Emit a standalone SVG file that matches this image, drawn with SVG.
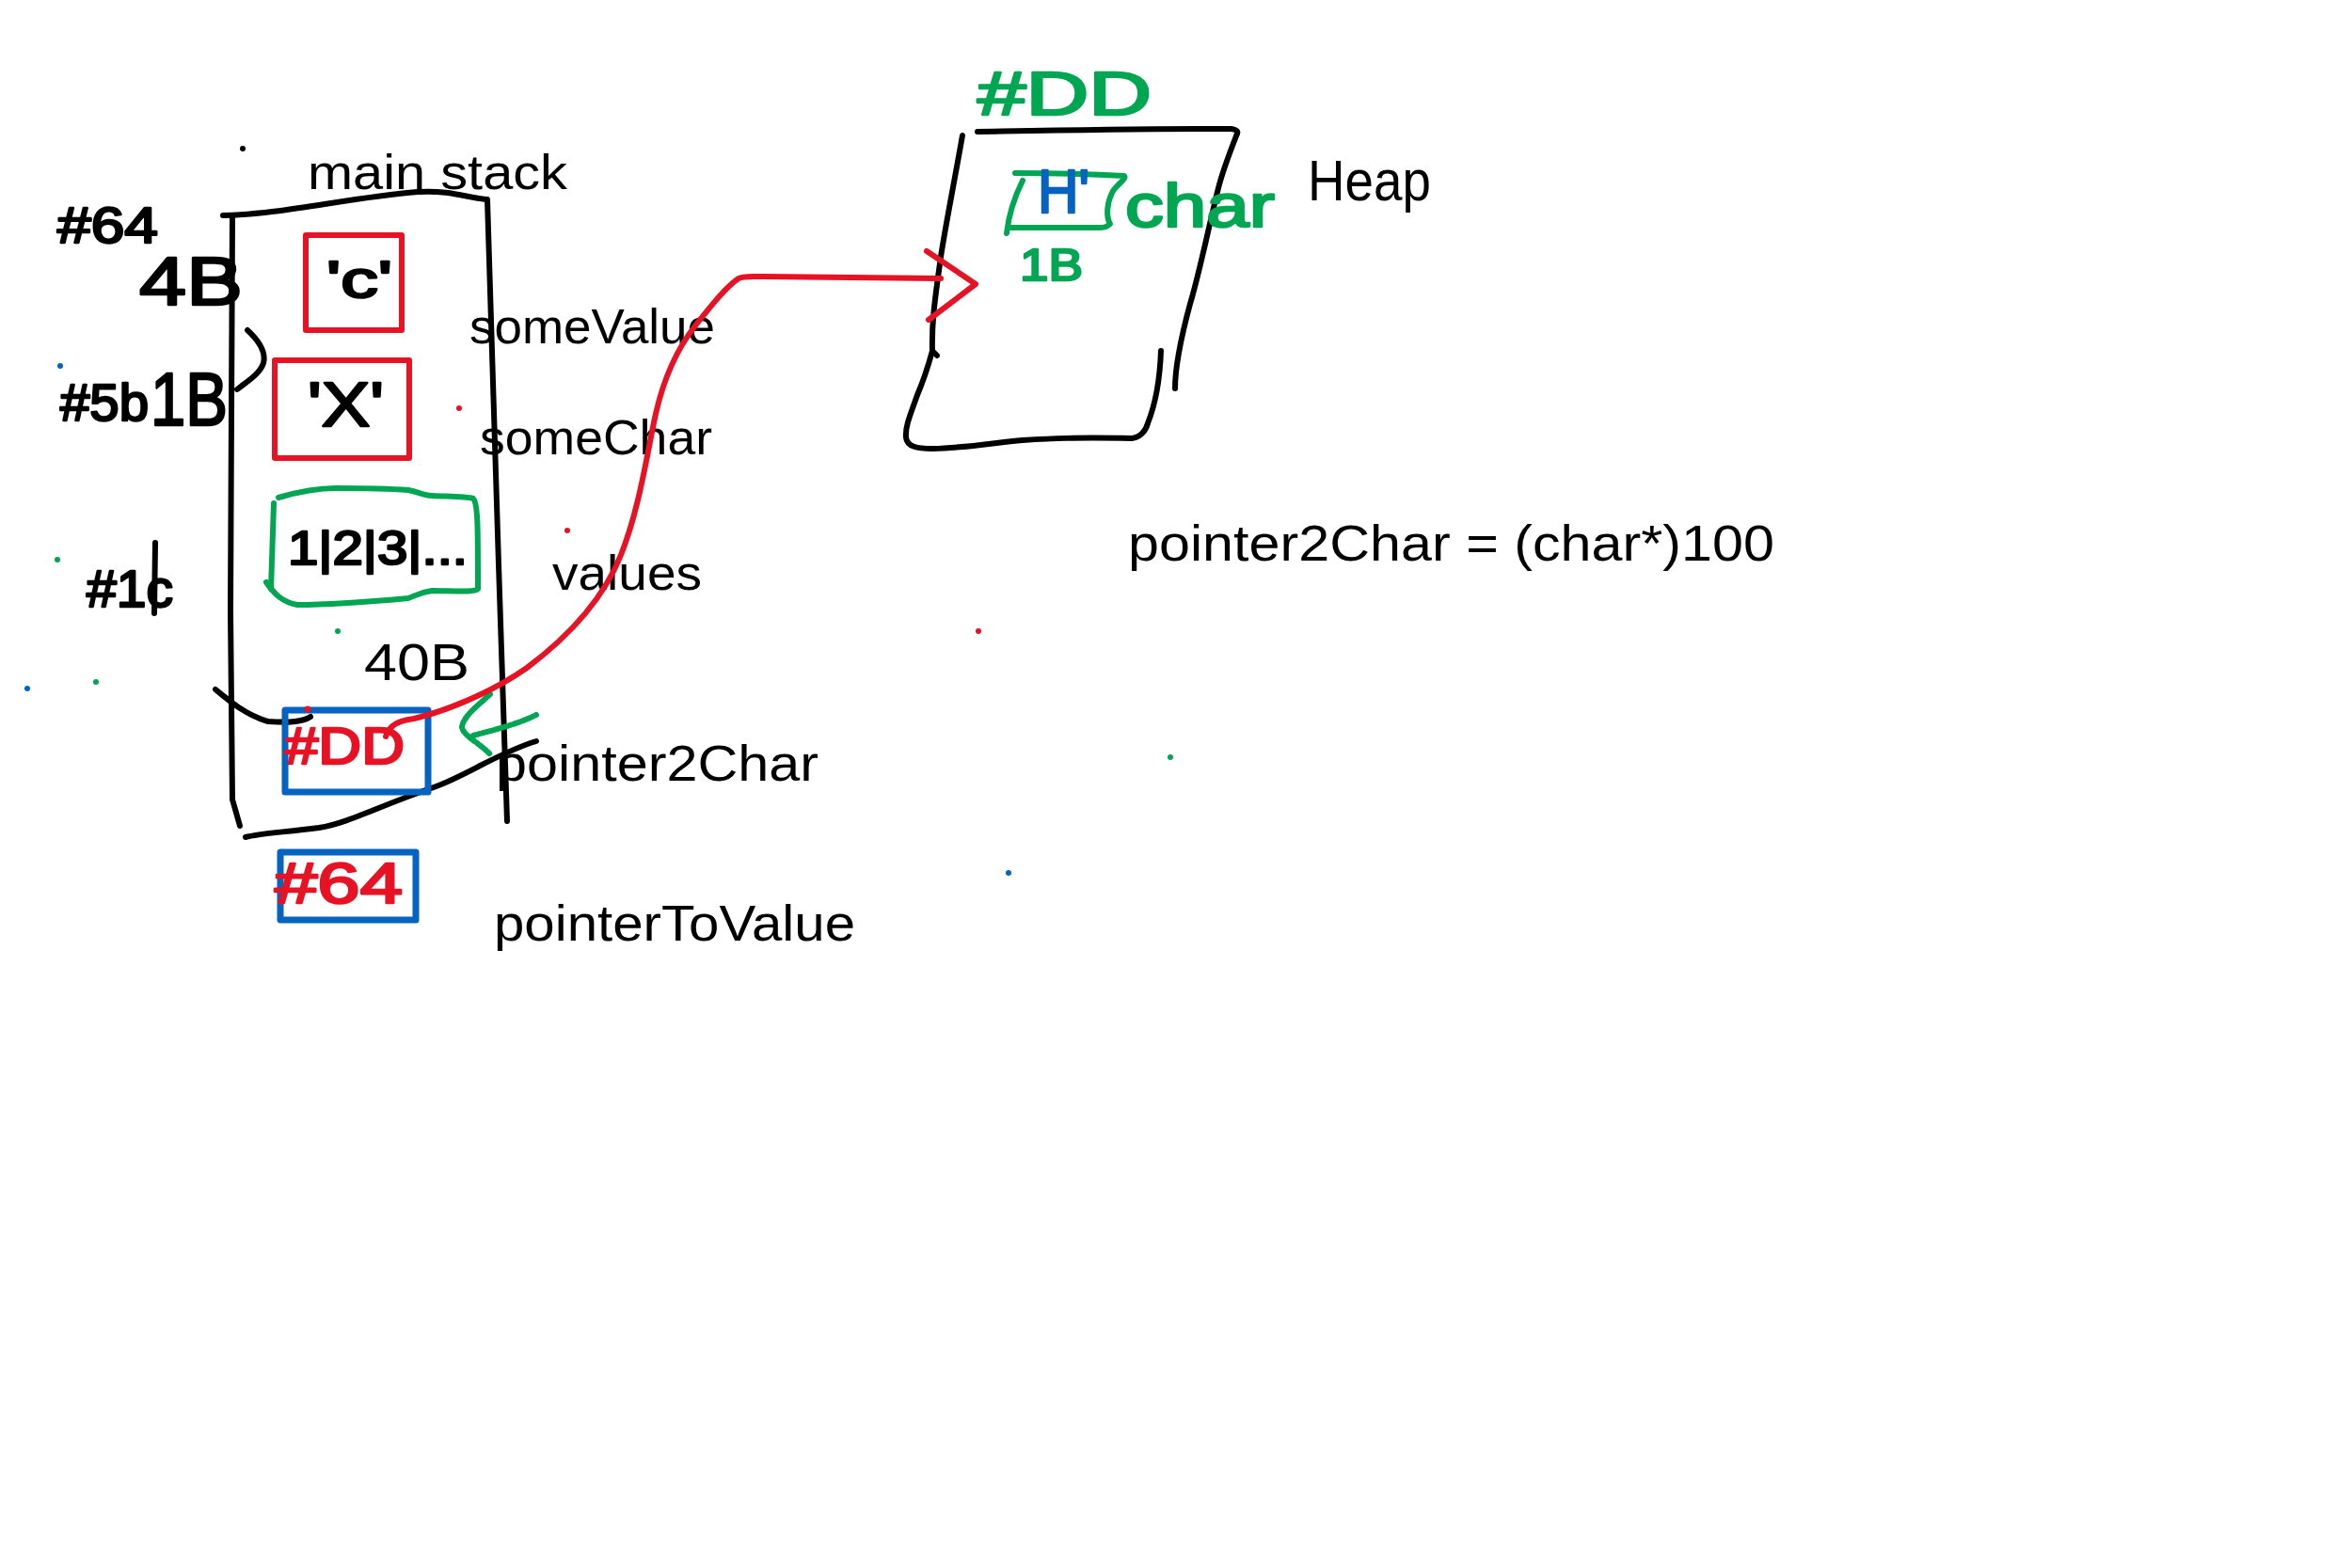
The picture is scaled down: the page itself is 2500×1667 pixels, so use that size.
<svg xmlns="http://www.w3.org/2000/svg" width="2500" height="1667" viewBox="0 0 2500 1667">
<style>
.ink{fill:none;stroke-linecap:round;stroke-linejoin:round}
.k{stroke:#000;stroke-width:6}
.r{stroke:#E71224;stroke-width:6}
.b{stroke:#0563C1;stroke-width:7}
.g{stroke:#00A651;stroke-width:6}
.lbl{font-family:"Liberation Sans",Arial,sans-serif;fill:#000}
.hw{font-family:"Liberation Sans",Arial,sans-serif;font-weight:normal;stroke-width:2.5;stroke-linejoin:round}
.hk{fill:#000;stroke:#000}
.hr{fill:#E71224;stroke:#E71224}
.hb{fill:#0563C1;stroke:#0563C1}
.hg{fill:#00A651;stroke:#00A651}
</style>
<rect width="2500" height="1667" fill="#fff"/>

<g id="dots">
<circle cx="258" cy="158" r="3" fill="#000"/>
<circle cx="64" cy="389" r="3" fill="#0563C1"/>
<circle cx="488" cy="434" r="3" fill="#E71224"/>
<circle cx="603" cy="564" r="3" fill="#E71224"/>
<circle cx="61" cy="595" r="3" fill="#00A651"/>
<circle cx="359" cy="671" r="3" fill="#00A651"/>
<circle cx="29" cy="732" r="3" fill="#0563C1"/>
<circle cx="102" cy="725" r="3" fill="#00A651"/>
<circle cx="1040" cy="671" r="3" fill="#E71224"/>
<circle cx="1244" cy="805" r="3" fill="#00A651"/>
<circle cx="1072" cy="928" r="3" fill="#0563C1"/>
</g>

<g id="main-stack">
<path class="ink k" d="M237,229 C300,228 370,210 444,204 C480,202 495,210 517,212"/>
<path class="ink k" d="M247,229 L245,650 L247,850 L255,878"/>
<path class="ink k" d="M518,212 L530,600 L539,873"/>
<path class="ink k" d="M261,890 C275,886 300,885 339,880 C370,875 400,858 461,837 C495,825 530,800 570,788"/>
<path class="ink k" d="M229,733 C240,742 260,760 285,767 C300,768 320,769 330,762"/>
<text class="lbl" x="327" y="201" font-size="52" textLength="276" lengthAdjust="spacingAndGlyphs">main stack</text>
</g>

<g id="address-labels">
<text class="hw hk" x="61" y="258" font-size="54" textLength="107" lengthAdjust="spacingAndGlyphs">#64</text>
<text class="hw hk" x="148" y="324" font-size="72" textLength="110" lengthAdjust="spacingAndGlyphs">4B</text>
<text class="hw hk" x="64" y="447" font-size="56" textLength="94" lengthAdjust="spacingAndGlyphs">#5b</text>
<text class="hw hk" x="160" y="452" font-size="80" textLength="82" lengthAdjust="spacingAndGlyphs">1B</text>
<path class="ink k" d="M263,351 C275,362 283,374 280,386 C276,398 262,406 252,414"/>
<text class="hw hk" x="92" y="645" font-size="56" textLength="92" lengthAdjust="spacingAndGlyphs">#1c</text>
<path class="ink k" d="M165,577 L164,652"/>
</g>

<g id="someValue">
<rect class="ink r" x="325" y="250" width="102" height="101"/>
<text class="hw hk" x="347" y="316" font-size="56" textLength="70" lengthAdjust="spacingAndGlyphs">'c'</text>
<text class="lbl" x="499" y="365" font-size="52" textLength="261" lengthAdjust="spacingAndGlyphs">someValue</text>
</g>

<g id="someChar">
<rect class="ink r" x="292" y="383" width="143" height="104"/>
<text class="hw hk" x="327" y="453" font-size="66" textLength="81" lengthAdjust="spacingAndGlyphs">'X'</text>
<text class="lbl" x="510" y="483" font-size="52" textLength="247" lengthAdjust="spacingAndGlyphs">someChar</text>
</g>

<g id="values">
<path class="ink g" d="M296,529 C320,522 340,519 357,519 C390,519 420,520 434,521 C445,523 450,527 459,527 C480,528 495,528 503,530 C508,535 508,560 508,626 C505,630 480,628 459,628 C445,630 440,634 434,636 C390,640 340,643 316,643 C300,640 292,632 283,619"/>
<path class="ink g" d="M291,535 L288,626"/>
<text class="hw hk" x="306" y="600" font-size="50" textLength="191" lengthAdjust="spacingAndGlyphs" font-weight="bold">1|2|3|...</text>
<text class="lbl" x="587" y="627" font-size="52" textLength="159" lengthAdjust="spacingAndGlyphs">values</text>
<text class="lbl" x="387" y="723" font-size="56" textLength="112" lengthAdjust="spacingAndGlyphs">40B</text>
</g>

<g id="pointer2Char">
<rect class="ink b" x="303" y="755" width="152" height="87"/>
<circle cx="327" cy="754" r="3.5" fill="#E71224"/>
<text class="hw hr" x="303" y="812" font-size="56" textLength="127" lengthAdjust="spacingAndGlyphs">#DD</text>
<path class="ink g" stroke-dasharray="3 2" d="M521,738 C508,750 492,762 491,773 C492,782 510,790 521,802 M503,782 C525,776 550,770 570,760"/>
<text class="lbl" x="527" y="830" font-size="54" textLength="343" lengthAdjust="spacingAndGlyphs">pointer2Char</text>
</g>

<g id="pointerToValue">
<rect class="ink b" x="298" y="906" width="144" height="72"/>
<text class="hw hr" x="292" y="960" font-size="62" textLength="136" lengthAdjust="spacingAndGlyphs">#64</text>
<text class="lbl" x="525" y="1000" font-size="54" textLength="384" lengthAdjust="spacingAndGlyphs">pointerToValue</text>
</g>

<g id="heap">
<path class="ink k" d="M1039,140 C1100,139 1200,137 1309,137 C1315,138 1316,140 1315,142"/>
<path class="ink k" d="M1023,144 C1015,190 1005,240 1000,273 C995,310 990,340 991,373 L996,378"/>
<path class="ink k" d="M1315,142 C1308,160 1300,180 1295,200 C1285,240 1275,290 1265,323 C1255,360 1249,390 1249,413"/>
<path class="ink k" d="M991,373 C985,395 978,413 975,420 C968,440 962,453 963,465 C964,475 975,477 991,477 C1030,476 1060,470 1087,468 C1120,466 1140,465 1203,466 C1212,465 1218,458 1220,450 C1228,430 1233,400 1234,373"/>
<text class="hw hg" x="1039" y="122" font-size="64" textLength="185" lengthAdjust="spacingAndGlyphs">#DD</text>
<text class="lbl" x="1390" y="213" font-size="62" textLength="131" lengthAdjust="spacingAndGlyphs">Heap</text>
</g>

<g id="heap-char">
<path class="ink g" d="M1079,184 C1110,184 1160,185 1195,187 C1198,190 1185,198 1182,205 C1177,215 1175,230 1180,238 C1176,242 1172,242 1170,242 L1074,242"/>
<path class="ink g" d="M1087,192 C1078,210 1072,230 1070,248"/>
<text class="hw hb" x="1103" y="226" font-size="64" textLength="55" lengthAdjust="spacingAndGlyphs">H'</text>
<text class="hw hg" x="1196" y="241" font-size="64" textLength="159" lengthAdjust="spacingAndGlyphs">char</text>
<text class="hw hg" x="1084" y="298" font-size="48" textLength="67" lengthAdjust="spacingAndGlyphs">1B</text>
</g>

<g id="connectors">
<path class="ink r" d="M410,783 C414,770 425,766 440,764 C470,757 520,738 560,710 C600,680 640,640 660,590 C680,540 688,480 697,440 C706,400 720,370 740,345 C760,320 772,305 785,296 C790,293 800,294 810,294 L1000,296"/>
<path class="ink r" d="M985,267 L1037,302 L987,340"/>
</g>

<g id="formula">
<text class="lbl" x="1199" y="596" font-size="54" textLength="687" lengthAdjust="spacingAndGlyphs">pointer2Char = (char*)100</text>
</g>
</svg>
